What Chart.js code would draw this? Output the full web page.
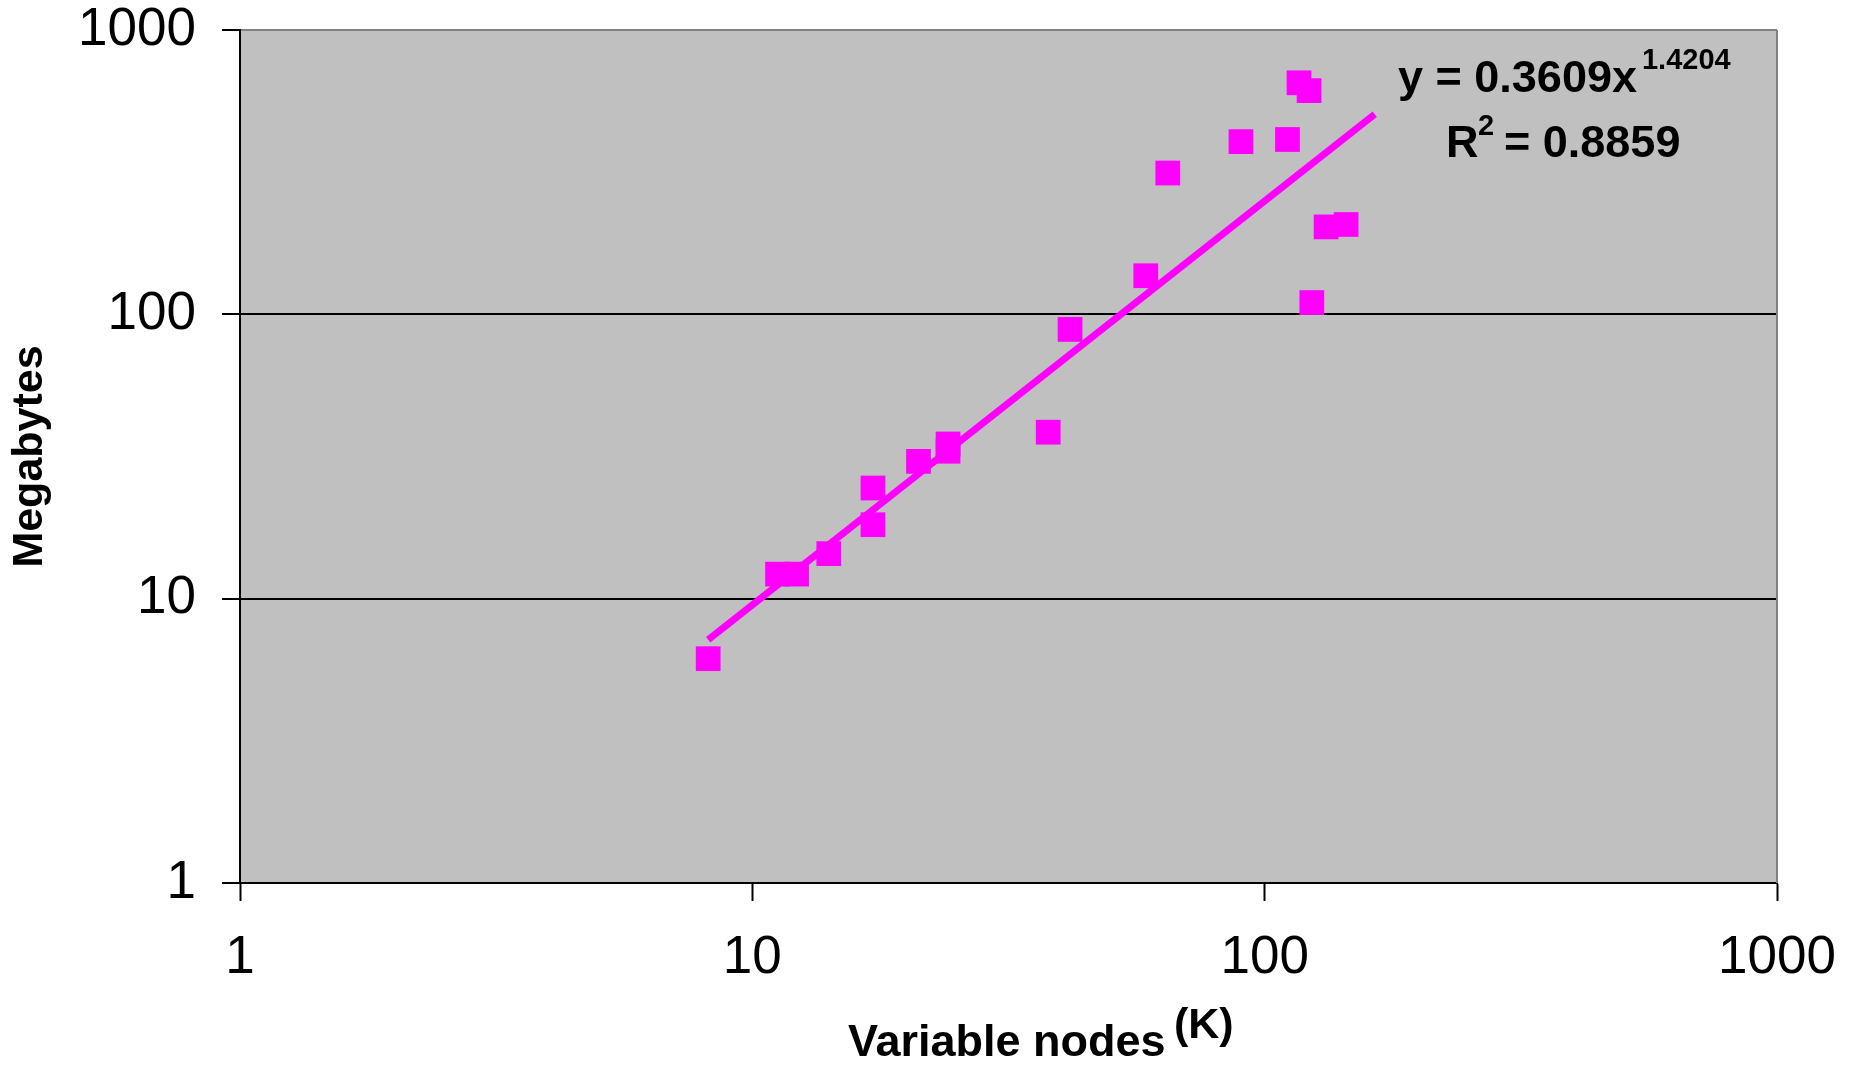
<!DOCTYPE html>
<html>
<head>
<meta charset="utf-8">
<script src="https://cdn.jsdelivr.net/npm/chart.js@4"></script>
<style>
  body { margin: 0; background: #fff; }
</style>
</head>
<body>
<canvas id="chart" width="1849" height="1065"></canvas>
<script>
// data
const nodesK = [8.2, 11.2, 12.2, 14.1, 17.2, 17.2, 21.1, 24.1, 24.1, 37.8, 41.7, 58.6, 64.7, 89.9, 110.8, 116.7, 122.1, 123.6, 131.8, 144.2];
const megabytes = [6.15, 12.2, 12.2, 14.4, 24.5, 18.2, 30.4, 35.0, 33.0, 38.5, 88.5, 136.7, 314, 405, 412, 652, 612, 110, 203, 207];
const tickValues = [1, 10, 100, 1000];

// power trendline shown on the chart
const trendA = 0.3609;
const trendB = 1.4204;
const trendR2 = 0.8859;
const trendRange = [8.2, 164];

const FONT = "'Liberation Sans', Arial, sans-serif";
const MAGENTA = '#FF00FF';

const points = nodesK.map((x, i) => ({ x: x, y: megabytes[i] }));
const trendPts = trendRange.map(x => ({ x: x, y: trendA * Math.pow(x, trendB) }));

const bgPlugin = {
  id: 'bg',
  beforeDraw(c) {
    const ctx = c.ctx, a = c.chartArea;
    ctx.save();
    ctx.fillStyle = '#fff';
    ctx.fillRect(0, 0, c.width, c.height);
    ctx.fillStyle = '#C0C0C0';
    ctx.fillRect(a.left, a.top, a.right - a.left, a.bottom - a.top);
    ctx.restore();
  },
  afterDraw(c) {
    const ctx = c.ctx, a = c.chartArea;
    ctx.save();
    // right edge of plot
    ctx.strokeStyle = '#808080';
    ctx.lineWidth = 2;
    ctx.beginPath();
    ctx.moveTo(a.right, a.top);
    ctx.lineTo(a.right, a.bottom);
    ctx.stroke();

    ctx.fillStyle = '#000';
    ctx.textBaseline = 'alphabetic';
    // equation
    ctx.font = 'bold 45px ' + FONT;
    let x = 1398;
    ctx.fillText('y = ' + trendA + 'x', x, 92);
    x += ctx.measureText('y = ' + trendA + 'x').width + 5;
    ctx.font = 'bold 29px ' + FONT;
    ctx.fillText(String(trendB), x, 69);

    ctx.font = 'bold 45px ' + FONT;
    ctx.fillText('R', 1446, 157);
    ctx.font = 'bold 29px ' + FONT;
    ctx.fillText('2', 1478, 135);
    ctx.font = 'bold 45px ' + FONT;
    ctx.fillText('= ' + trendR2, 1504, 157);

    // x axis title
    ctx.font = 'bold 45px ' + FONT;
    ctx.fillText('Variable nodes', 848, 1056);
    ctx.font = 'bold 43px ' + FONT;
    ctx.fillText('(K)', 1174, 1038);
    ctx.restore();
  }
};

const chart = document.querySelector('#chart').getContext('2d');

new Chart(chart, {
  type: 'scatter',
  data: {
    datasets: [
      {
        label: 'Memory',
        data: points,
        pointStyle: 'rect',
        pointRadius: 17.5,
        pointHoverRadius: 17.5,
        backgroundColor: MAGENTA,
        borderColor: MAGENTA,
        borderWidth: 0,
        showLine: false
      },
      {
        label: 'Power trend',
        type: 'line',
        data: trendPts,
        borderColor: MAGENTA,
        borderWidth: 7,
        pointRadius: 0,
        fill: false,
        tension: 0
      }
    ]
  },
  options: {
    responsive: false,
    animation: false,
    events: [],
    layout: { padding: { top: 30, right: 72, left: 0, bottom: 0 } },
    plugins: {
      legend: { display: false },
      tooltip: { enabled: false }
    },
    scales: {
      x: {
        type: 'logarithmic',
        min: 1,
        max: 1000,
        afterFit(s) { s.height = 182; s.paddingLeft = 0; s.paddingRight = 0; },
        afterBuildTicks(s) { s.ticks = tickValues.map(v => ({ value: v })); },
        grid: { drawOnChartArea: false, drawTicks: true, tickLength: 18, tickColor: '#000', tickWidth: 2 },
        border: { display: true, color: '#000', width: 2 },
        ticks: {
          color: '#000',
          font: { family: FONT, size: 53, lineHeight: 1 },
          padding: 31,
          maxRotation: 0,
          autoSkip: false,
          callback: v => String(v)
        }
      },
      y: {
        type: 'logarithmic',
        min: 1,
        max: 1000,
        afterFit(s) { s.width = 240; s.paddingTop = 0; s.paddingBottom = 0; },
        afterBuildTicks(s) { s.ticks = tickValues.map(v => ({ value: v })); },
        grid: {
          color: ctx => (ctx.tick && ctx.tick.value === 1000) ? '#808080' : '#000',
          lineWidth: 2,
          drawTicks: true,
          tickLength: 18,
          tickColor: '#000',
          tickWidth: 2
        },
        border: { display: true, color: '#000', width: 2 },
        ticks: {
          color: '#000',
          font: { family: FONT, size: 53, lineHeight: 1 },
          padding: 26,
          autoSkip: false,
          callback: v => String(v)
        },
        title: {
          display: true,
          text: 'Megabytes',
          color: '#000',
          font: { family: FONT, size: 43, weight: 'bold', lineHeight: 1 },
          padding: { top: 9, bottom: 0 }
        }
      }
    }
  },
  plugins: [bgPlugin]
});
</script>
</body>
</html>
